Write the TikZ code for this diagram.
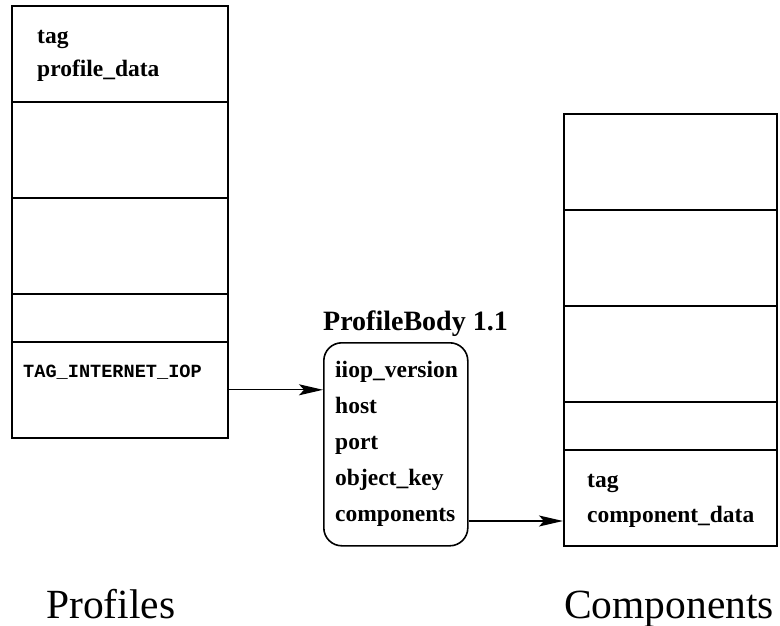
\documentclass[tikz,border=0pt]{standalone}
\usepackage{fontspec}
\setmainfont{Liberation Serif}
\setmonofont{Liberation Mono}
\usetikzlibrary{arrows.meta}
\tikzset{
  cell/.style={draw, line width=1.6pt, minimum width=216pt, anchor=north west, inner sep=0pt},
  rcell/.style={draw, line width=1.6pt, minimum width=213pt, anchor=north west, inner sep=0pt},
  lbl/.style={anchor=base west, inner sep=0pt, font=\fontsize{23.5}{23.5}\selectfont\bfseries},
  big/.style={anchor=base west, inner sep=0pt, font=\fontsize{41.5}{41.5}\selectfont},
  conn/.style={line width=1.3pt, -{Stealth[length=24pt,width=11pt,inset=5pt]}},
}
\begin{document}
\begin{tikzpicture}[x=1pt,y=-1pt]
\useasboundingbox (0,0) rectangle (780,626);
% left column
\node[cell, minimum height=96pt] (l1) at (11,5) {};
\node[cell, minimum height=96pt] (l2) at (11,101) {};
\node[cell, minimum height=96pt] (l3) at (11,197) {};
\node[cell, minimum height=48pt] (l4) at (11,293) {};
\node[cell, minimum height=96pt] (l5) at (11,341) {};
\node[lbl] (ltag) at (37,44) {tag};
\node[lbl] (lpd) at (37,77) {profile\_data};
\node[anchor=base west, inner sep=0pt, font=\fontsize{18.6}{18.6}\selectfont\ttfamily\bfseries] (tii) at (23,377) {TAG\_INTERNET\_IOP};
% profile body
\node[draw, line width=1.6pt, rounded corners=18pt, minimum width=144pt, minimum height=203pt, anchor=north west] (pb) at (323,342) {};
\node[anchor=base west, inner sep=0pt, font=\fontsize{28}{28}\selectfont\bfseries] (pbt) at (323,330) {ProfileBody 1.1};
\node[lbl] (iv) at (335,377) {iiop\_version};
\node[lbl] (host) at (335,413) {host};
\node[lbl] (port) at (335,449) {port};
\node[lbl] (okey) at (335,485) {object\_key};
\node[lbl] (comp) at (335,521) {components};
% right column
\node[rcell, minimum height=96pt] (r1) at (563,113) {};
\node[rcell, minimum height=96pt] (r2) at (563,209) {};
\node[rcell, minimum height=96pt] (r3) at (563,305) {};
\node[rcell, minimum height=48pt] (r4) at (563,401) {};
\node[rcell, minimum height=96pt] (r5) at (563,449) {};
\node[lbl] (rtag) at (587,487) {tag};
\node[lbl] (rcd) at (587,522) {component\_data};
% connectors
\draw[conn] (l5.east) -- (l5.east -| pb.west);
\draw[conn] (comp.base -| pb.east) -- (comp.base -| r5.west);
% captions
\node[big] (cap1) at (46,618) {Profiles};
\node[big] (cap2) at (564,618) {Components};
\end{tikzpicture}
\end{document}
